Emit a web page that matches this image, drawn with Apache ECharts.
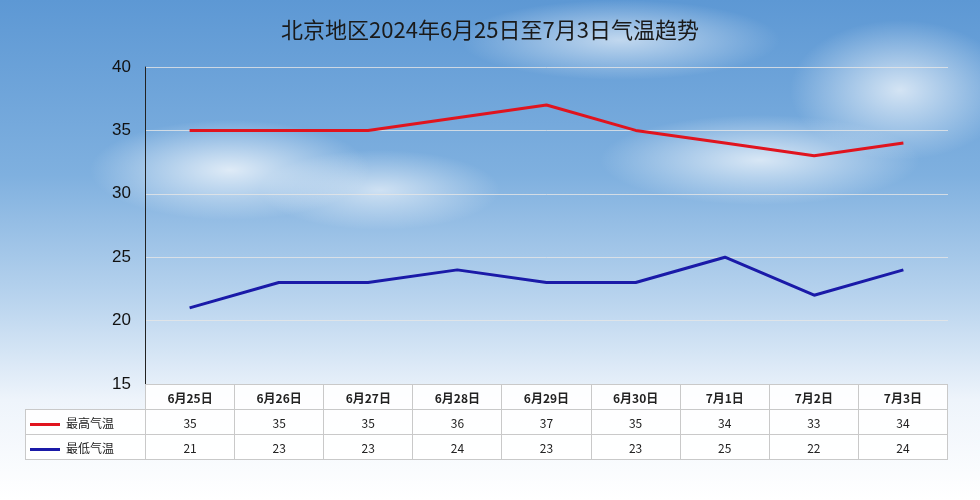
<!DOCTYPE html>
<html><head><meta charset="utf-8">
<script src="https://cdn.jsdelivr.net/npm/echarts@6/dist/echarts.min.js"></script>
<style>
body{margin:0;width:980px;height:500px;overflow:hidden;font-family:"Noto Sans CJK SC",sans-serif;
background:
radial-gradient(ellipse 140px 50px at 230px 170px,rgba(255,255,255,.75),rgba(255,255,255,0)),
radial-gradient(ellipse 120px 40px at 380px 190px,rgba(255,255,255,.6),rgba(255,255,255,0)),
radial-gradient(ellipse 160px 45px at 760px 160px,rgba(255,255,255,.7),rgba(255,255,255,0)),
radial-gradient(ellipse 110px 70px at 900px 90px,rgba(255,255,255,.7),rgba(255,255,255,0)),
radial-gradient(ellipse 160px 40px at 620px 40px,rgba(255,255,255,.6),rgba(255,255,255,0)),
linear-gradient(#5d98d4 0%,#7fb0df 35%,#b9d4ee 60%,#eef4fb 80%,#ffffff 100%);}
#c{position:absolute;left:0;top:0;width:980px;height:500px}
table{position:absolute;left:25px;top:384px;width:923px;table-layout:fixed;border-collapse:collapse;font-family:"Noto Sans CJK SC",sans-serif;font-size:12px;color:#222}
td{border:1px solid #c9c9c9;text-align:center;height:24px;padding:0;background:rgba(255,255,255,.9);overflow:hidden}
td.h{text-align:left;white-space:nowrap}
tr.hd td{font-weight:bold}
.sw{display:inline-block;width:30px;height:3px;vertical-align:middle;margin:0 6px 0 4px}
</style></head><body>
<div id="c"></div>
<table id="t"></table>
<script>
const categories=["6月25日","6月26日","6月27日","6月28日","6月29日","6月30日","7月1日","7月2日","7月3日"];
const highTemps=[35,35,35,36,37,35,34,33,34];
const lowTemps=[21,23,23,24,23,23,25,22,24];
const highName="最高气温", lowName="最低气温";
const t=document.getElementById('t');
let h='<colgroup><col style="width:120px">'+categories.map(()=>'<col>').join('')+'</colgroup>';
h+='<tr class="hd"><td class="h" style="border-top:none;border-left:none;background:transparent"></td>'+categories.map(c=>'<td>'+c+'</td>').join('')+'</tr>';
h+='<tr><td class="h"><span class="sw" style="background:#e0141e"></span>'+highName+'</td>'+highTemps.map(v=>'<td>'+v+'</td>').join('')+'</tr>';
h+='<tr><td class="h"><span class="sw" style="background:#1a1aa8"></span>'+lowName+'</td>'+lowTemps.map(v=>'<td>'+v+'</td>').join('')+'</tr>';
t.innerHTML=h;
const ch=echarts.init(document.getElementById('c'));
ch.setOption({
title:{text:"北京地区2024年6月25日至7月3日气温趋势",left:'center',top:14,textStyle:{fontSize:22,fontWeight:'normal',color:'#1a1a1a',fontFamily:'Noto Sans CJK SC'}},
grid:{left:145,right:32,top:67,bottom:116},
xAxis:{type:'category',data:categories,boundaryGap:true,axisLabel:{show:false},axisTick:{show:false},axisLine:{show:false}},
yAxis:{type:'value',min:15,max:40,interval:5,axisLine:{show:true,lineStyle:{color:'#222'}},axisLabel:{fontSize:17,color:'#111',margin:14},splitLine:{lineStyle:{color:'rgba(230,230,230,0.8)'}}},
series:[
{name:highName,type:'line',data:highTemps,symbol:'circle',symbolSize:1,itemStyle:{color:'#e0141e',opacity:0},lineStyle:{color:'#e0141e',width:3},label:{show:true,position:'top',distance:12,fontSize:20,fontWeight:'bold',color:'#a3302b'}},
{name:lowName,type:'line',data:lowTemps,symbol:'circle',symbolSize:1,itemStyle:{color:'#1a1aa8',opacity:0},lineStyle:{color:'#1a1aa8',width:3},label:{show:true,position:'bottom',distance:12,fontSize:20,fontWeight:'bold',color:'#14204a'}}
]});
</script></body></html>
